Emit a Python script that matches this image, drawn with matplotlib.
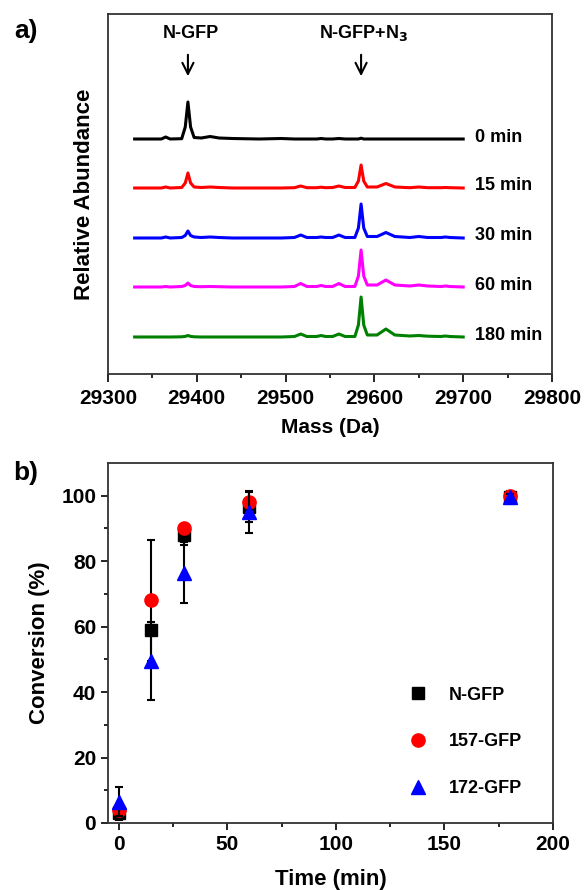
import matplotlib
matplotlib.use('Agg')
import matplotlib.pyplot as plt
import numpy as np

plt.rcParams['font.family'] = ['Liberation Sans', 'DejaVu Sans']
plt.rcParams['font.weight'] = 'bold'
plt.rcParams['axes.labelweight'] = 'bold'
plt.rcParams['mathtext.default'] = 'bf'

# ---- panel a: mass spectra (heights) ----
mass = [29330, 29360, 29365, 29370, 29383, 29387, 29390, 29393, 29397, 29405,
        29415, 29425, 29440, 29470, 29495, 29510, 29517, 29524, 29535, 29540,
        29545, 29553, 29560, 29567, 29578, 29582, 29585, 29588, 29592, 29603,
        29613, 29623, 29640, 29650, 29660, 29675, 29680, 29685, 29700]

int_0 = [0, 0, 2, 0, 0.3, 12, 37, 12, 1.5, 1, 2.5, 1, 0.5, 0, 0.5, 0, 0, 0, 0, 0.5,
         0, 0, 0.5, 0, 0, 0, 0.8, 0, 0, 0, 0, 0, 0, 0, 0, 0, 0, 0, 0]
int_15 = [0, 0, 1, 0, 0.5, 5, 15, 5, 1, 0.5, 1, 0.5, 0, 0, 0, 0.3, 2, 0.3, 0.3, 0.8,
          0.3, 0.5, 2, 0.5, 0.5, 7, 23, 7, 1, 1, 4.5, 1, 0.3, 1, 0.3, 0.3, 0.5, 0.3, 0]
int_30 = [0, 0, 1, 0, 0.5, 2.5, 7, 2.5, 1, 0.5, 1, 0.5, 0, 0, 0, 0.5, 3, 0.5, 0.5, 1,
          0.5, 0.5, 3, 0.5, 0.5, 10, 34, 10, 1.5, 1.5, 5.5, 1.5, 0.5, 1.5, 0.5, 0.5, 1, 0.5, 0]
int_60 = [0, 0, 0.5, 0, 0.5, 1.5, 4, 1.5, 0.5, 0.3, 0.5, 0.3, 0, 0, 0, 0.5, 3.5, 0.5, 0.5, 1.5,
          0.5, 0.5, 3.5, 0.5, 0.5, 11, 37, 11, 2, 2, 7, 2, 1, 2, 1, 0.5, 1, 0.5, 0]
int_180 = [0, 0, 0, 0, 0.2, 0.6, 1.5, 0.6, 0.2, 0, 0, 0, 0, 0, 0, 0.5, 3, 0.5, 0.5, 1.5,
           0.5, 0.5, 3, 0.5, 0.5, 12, 40, 12, 2, 2, 8, 2, 1, 1.5, 0.8, 0.5, 1, 0.5, 0]

spectra = [int_0, int_15, int_30, int_60, int_180]
spec_labels = ['0 min', '15 min', '30 min', '60 min', '180 min']
spec_colors = ['black', '#ff0000', '#0000ff', '#ff00ff', '#008000']
offsets = [235, 186, 136, 87, 37]

# ---- panel b: conversion ----
time = [0, 15, 30, 60, 180]
conv_n = [3, 59, 88, 96.5, 99.5]
err_n = [2, 1.5, 3, 4.5, 2]
conv_157 = [4, 68, 90, 98, 100]
err_157 = [1.5, 18.5, 1, 1, 0.5]
conv_172 = [6.5, 49.5, 76.5, 95, 99.5]
err_172 = [4.5, 12, 9.3, 6.5, 1]

fig = plt.figure(figsize=(5.84, 8.90), dpi=100)

ax1 = fig.add_axes([108/584, 1-374/890, 444/584, 360/890])
for y, lab, c, off in zip(spectra, spec_labels, spec_colors, offsets):
    ax1.plot(mass, np.array(y) + off, color=c, lw=2.2)
    ax1.text(29713, off + 2, lab, fontsize=13, fontweight='bold', va='center', ha='left')

ax1.set_xlim(29300, 29800)
ax1.set_ylim(0, 360)
ax1.set_yticks([])
ax1.set_xticks([29300, 29400, 29500, 29600, 29700, 29800])
ax1.set_xticks([29350, 29450, 29550, 29650, 29750], minor=True)
ax1.tick_params(axis='x', which='major', direction='out', length=6, width=1.2, labelsize=15, pad=5)
ax1.tick_params(axis='x', which='minor', direction='out', length=3, width=1.2)
ax1.set_xlabel('Mass (Da)', fontsize=15, labelpad=7)
ax1.set_ylabel('Relative Abundance', fontsize=16, labelpad=9)
for s in ax1.spines.values():
    s.set_linewidth(1.3)
    s.set_color('#333333')

for xm, txt in [(29390, 'N-GFP'), (29585, 'N-GFP+N$_3$')]:
    ax1.text(xm + 3, 341, txt, fontsize=13, fontweight='bold', ha='center', va='center')
    ax1.annotate('', xy=(xm, 295), xytext=(xm, 322),
                 arrowprops=dict(arrowstyle='->,head_length=0.8,head_width=0.4', lw=1.5, color='black'))

fig.text(26/584, 1-31/890, 'a)', fontsize=19, fontweight='bold', ha='center', va='center')

ax2 = fig.add_axes([108/584, 1-823/890, 445/584, 360/890])
ax2.errorbar(time, conv_n, yerr=err_n, fmt='s', color='black', ms=8, ecolor='black',
             elinewidth=1.5, capsize=3, capthick=1.5, label='N-GFP', zorder=3)
ax2.errorbar(time, conv_157, yerr=err_157, fmt='o', color='#ff0000', ms=9.5, ecolor='black',
             elinewidth=1.5, capsize=3, capthick=1.5, label='157-GFP', zorder=4)
ax2.errorbar(time, conv_172, yerr=err_172, fmt='^', color='#0000ff', ms=10.5, ecolor='black',
             elinewidth=1.5, capsize=3, capthick=1.5, label='172-GFP', zorder=5)

ax2.set_xlim(-5, 200)
ax2.set_ylim(0, 110)
ax2.set_xticks([0, 50, 100, 150, 200])
ax2.set_xticks([25, 75, 125, 175], minor=True)
ax2.set_yticks([0, 20, 40, 60, 80, 100])
ax2.set_yticks([10, 30, 50, 70, 90], minor=True)
ax2.tick_params(which='major', direction='out', length=5, width=1.2, labelsize=15)
ax2.tick_params(which='minor', direction='out', length=3, width=1.2)
ax2.set_xlabel('Time (min)', fontsize=16, labelpad=11)
ax2.set_ylabel('Conversion (%)', fontsize=16, labelpad=8)
for s in ax2.spines.values():
    s.set_linewidth(1.3)
    s.set_color('#333333')

handles, labels = ax2.get_legend_handles_labels()
handles = [h[0] for h in handles]
ax2.legend(handles, labels, loc='center left', bbox_to_anchor=(0.64, 0.225), frameon=False,
           labelspacing=1.65, handletextpad=1.2, handlelength=1.0,
           prop={'weight': 'bold', 'size': 13})

fig.text(26/584, 1-473/890, 'b)', fontsize=19, fontweight='bold', ha='center', va='center')

fig.savefig('out.png', dpi=100)
